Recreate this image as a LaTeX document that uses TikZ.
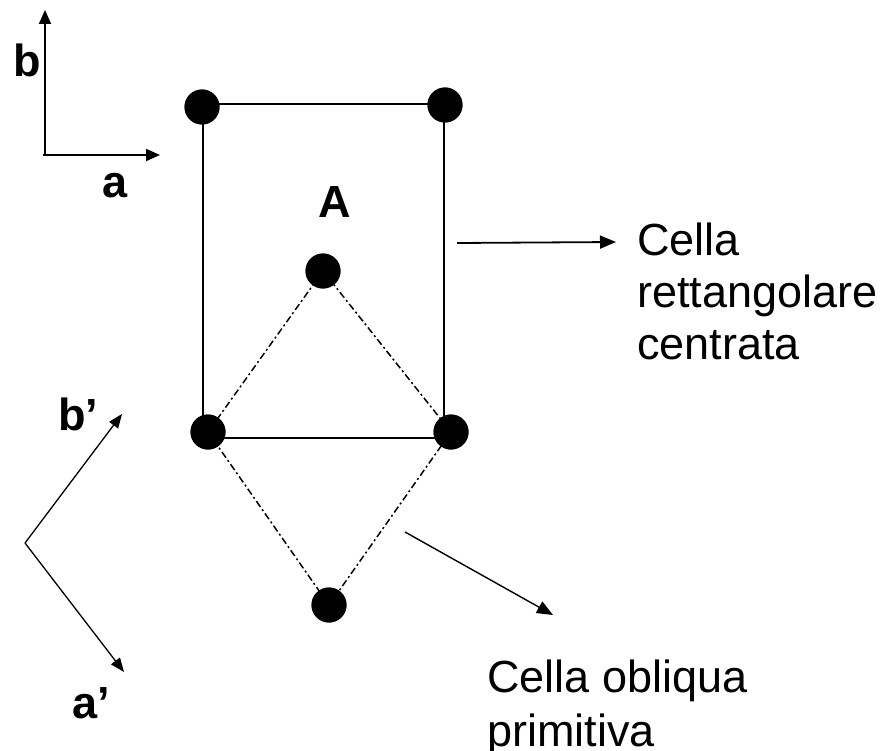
\documentclass[tikz,border=0pt]{standalone}
\usepackage{fontspec}
\setmainfont{Liberation Sans}
\usetikzlibrary{arrows.meta}
\begin{document}
\begin{tikzpicture}[x=1pt,y=-1pt,
  atom/.style={circle,fill=black,inner sep=0pt,minimum size=35pt},
  cellline/.style={line width=2pt},
  primline/.style={line width=1.5pt,dash pattern=on 7pt off 3pt on 2pt off 3pt},
  axis/.style={line width=2pt,-{Triangle[length=14pt,width=12pt]}},
  thinaxis/.style={line width=1.3pt,-{Triangle[length=14pt,width=11pt]}},
  pointer/.style={line width=1.8pt,-{Triangle[length=16pt,width=13pt]}},
  lbl/.style={font=\fontsize{45}{52}\selectfont\bfseries,inner sep=0pt,anchor=base west},
  txt/.style={inner sep=0pt,anchor=base west,align=left}]
\useasboundingbox (0,0) rectangle (890,751);

% lattice points
\node[atom] (tl) at (202,107) {};
\node[atom] (tr) at (445,105) {};
\node[atom] (A)  at (323,271) {};
\node[atom] (bl) at (208,432) {};
\node[atom] (br) at (451,432) {};
\node[atom] (bo) at (329,605) {};

% centred rectangular cell
\coordinate (c1) at (203,104);
\coordinate (c2) at (444,104);
\coordinate (c3) at (444,438);
\coordinate (c4) at (203,438);
\draw[cellline] (c1) -- (c2) -- (c3) -- (c4) -- cycle;

% oblique primitive cell
\draw[primline] (bl.center) -- (A.center) -- (br.center) -- (bo.center) -- cycle;
\node[atom] at (tl) {};
\node[atom] at (tr) {};
\node[atom] at (A) {};
\node[atom] at (bl) {};
\node[atom] at (br) {};
\node[atom] at (bo) {};

% axes a, b
\coordinate (o) at (45,155);
\coordinate (bt) at (45,10);
\coordinate (at) at (160,155);
\draw[axis] (43,155) -- (at);
\draw[axis] (o) -- (bt);
\node[lbl] (lb) at (13,77) {b};
\node[lbl] (la) at (102,197) {a};
\node[lbl] (lA) at (318,218) {A};

% axes a', b'
\coordinate (o2) at (25,543);
\coordinate (bpt) at (122,414);
\coordinate (apt) at (124,672);
\draw[thinaxis] (o2) -- (bpt);
\draw[thinaxis] (o2) -- (apt);
\node[lbl] (lbp) at (58,430) {b’};
\node[lbl] (lap) at (72,718) {a’};

% labels and pointers (base anchor sits on the last line)
\node[txt,font=\fontsize{45}{52}\selectfont] (t1) at (637,359) {Cella\\rettangolare\\centrata};
\coordinate (p1s) at (457,243);
\coordinate (p1e) at (616,242);
\draw[pointer] (p1s) -- (p1e);

\node[txt,font=\fontsize{45}{54}\selectfont] (t2) at (487,746) {Cella obliqua\\primitiva};
\coordinate (p2s) at (405,532);
\coordinate (p2e) at (553,615);
\draw[pointer,line width=1.4pt] (p2s) -- (p2e);
\end{tikzpicture}
\end{document}
